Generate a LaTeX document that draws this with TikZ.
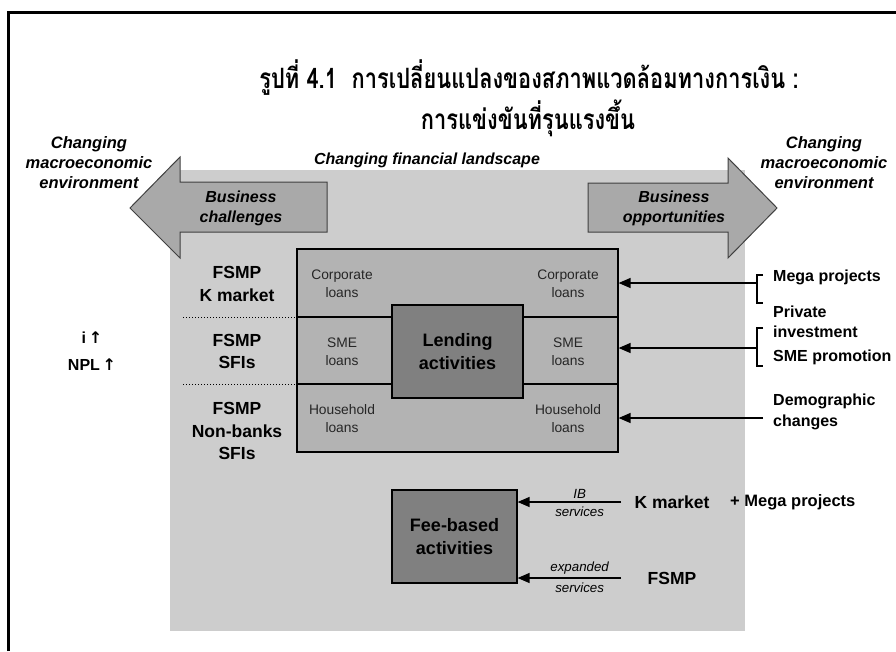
\documentclass[tikz,border=0pt]{standalone}
\usepackage{fontspec}
\setmainfont{Liberation Sans}
\newfontfamily\thaifont[Script=Thai, FakeStretch=0.78]{Loma}
\newfontfamily\symfont{DejaVu Sans}
\usetikzlibrary{arrows.meta}
\definecolor{landbg}{HTML}{CDCDCD}
\definecolor{arrowfill}{HTML}{A9A9A9}
\definecolor{rowfill}{HTML}{B3B3B3}
\definecolor{corefill}{HTML}{808080}
\tikzset{
  lbl/.style={font=\fontsize{17}{20}\selectfont\bfseries, align=center, inner sep=0pt},
  drv/.style={font=\fontsize{16}{20}\selectfont\bfseries, align=left, inner sep=0pt, anchor=west},
  ibl/.style={font=\fontsize{16.5}{20}\selectfont\bfseries\itshape, align=center, inner sep=0pt},
  small/.style={font=\fontsize{13.8}{18}\selectfont, text=black!85, align=center, inner sep=0pt},
  smallit/.style={font=\fontsize{13.3}{14}\selectfont\itshape, inner sep=0pt},
  rowbox/.style={draw=black, line width=1.2pt, fill=rowfill, minimum width=321pt, inner sep=0pt},
  corebox/.style={draw=black, line width=1.2pt, fill=corefill, inner sep=0pt, align=center,
     font=\fontsize{18}{23}\selectfont\bfseries},
  bigarrow/.style={draw=black!75, line width=1pt, fill=arrowfill},
  conn/.style={line width=1.3pt, -{Triangle[length=12pt,width=10pt]}},
  brk/.style={line width=1.2pt},
  thai/.style={font=\thaifont\fontsize{28}{30}\selectfont\bfseries, inner sep=0pt}
}
\begin{document}
\begin{tikzpicture}[x=1pt,y=-1pt]
\useasboundingbox (0,0) rectangle (896,651);
% frame
\draw[line width=3pt] (8,651) -- (8,12) -- (896,12);
% title
\node[thai] (t1) at (529,78) {รูปที่ 4.1\ \ การเปลี่ยนแปลงของสภาพแวดล้อมทางการเงิน :};
\node[thai] (t2) at (528,118) {การแข่งขันที่รุนแรงขึ้น};
% landscape background
\fill[landbg] (170,170) rectangle (745,631);
\node[font=\fontsize{16}{20}\selectfont\bfseries\itshape, inner sep=0pt] (land) at (427,160) {Changing financial landscape};
% big arrows
\draw[bigarrow] (327,182) -- (180,182) -- (180,157) -- (130,208) -- (180,258) -- (180,232) -- (327,232) -- cycle;
\draw[bigarrow] (588,183) -- (728,183) -- (728,158) -- (777,208) -- (728,258) -- (728,232) -- (588,232) -- cycle;
\node[ibl, font=\fontsize{16}{20}\selectfont\bfseries\itshape] (bc) at (241,208) {Business\\challenges};
\node[ibl, font=\fontsize{16}{20}\selectfont\bfseries\itshape] (bo) at (674,208) {Business\\opportunities};
\node[ibl] (cml) at (89,163) {Changing\\macroeconomic\\environment};
\node[ibl] (cmr) at (824,163) {Changing\\macroeconomic\\environment};
% lending rows
\node[rowbox, minimum height=68pt] (r1) at (457.5,283) {};
\node[rowbox, minimum height=67pt] (r2) at (457.5,350.5) {};
\node[rowbox, minimum height=68pt] (r3) at (457.5,418) {};
\node[corebox, minimum width=131pt, minimum height=93pt] (lend) at (457.5,351.5) {Lending\\activities};
\node[small] (cl1) at (342,284) {Corporate\\loans};
\node[small] (cl2) at (568,284) {Corporate\\loans};
\node[small] (sl1) at (342,352) {SME\\loans};
\node[small] (sl2) at (568,352) {SME\\loans};
\node[small] (hl1) at (342,419) {Household\\loans};
\node[small] (hl2) at (568,419) {Household\\loans};
% left labels
\node[lbl, font=\fontsize{17.5}{22.5}\selectfont\bfseries] (f1) at (237,284) {FSMP\\K market};
\node[lbl, font=\fontsize{17.5}{22.5}\selectfont\bfseries] (f2) at (237,351.5) {FSMP\\SFIs};
\node[lbl, font=\fontsize{17.5}{22.5}\selectfont\bfseries] (f3) at (237,431) {FSMP\\Non-banks\\SFIs};
\coordinate (d1) at (183,317);
\coordinate (d2) at (183,384);
\draw[dotted, line width=1pt] (d1) -- (d1 -| r1.west);
\draw[dotted, line width=1pt] (d2) -- (d2 -| r2.west);
\node[lbl, font=\fontsize{16}{20}\selectfont\bfseries] (irate) at (92,338) {i\,{\symfont\bfseries\char"2191}};
\node[lbl, font=\fontsize{16}{20}\selectfont\bfseries] (npl) at (92,365) {NPL\,{\symfont\bfseries\char"2191}};
% right side drivers
\node[drv] (mega) at (773,277) {Mega projects};
\node[drv] (priv) at (773,322) {Private\\investment};
\node[drv] (smep) at (773,357) {SME promotion};
\node[drv, font=\fontsize{16}{21}\selectfont\bfseries] (demo) at (773,412) {Demographic\\changes};
\coordinate (b1) at (757,283);
\coordinate (b2) at (757,348);
\coordinate (b3) at (763,418);
\draw[brk] (763,275) -- (757,275) -- (757,303) -- (763,303);
\draw[brk] (763,328) -- (757,328) -- (757,366) -- (763,366);
\draw[conn] (b1) -- (b1 -| r1.east);
\draw[conn] (b2) -- (b2 -| r2.east);
\draw[conn] (b3) -- (b3 -| r3.east);
% fee-based
\node[corebox, minimum width=125pt, minimum height=93pt] (fee) at (454.5,536.5) {Fee-based\\activities};
\node[lbl, font=\fontsize{17.5}{20}\selectfont\bfseries] (km) at (672,502) {K market};
\node[lbl, font=\fontsize{17.5}{20}\selectfont\bfseries] (fsmp) at (672,578) {FSMP};
\node[drv, font=\fontsize{16.5}{20}\selectfont\bfseries] (mega2) at (730,502) {+ Mega projects};
\coordinate (k1) at (621,502);
\coordinate (k2) at (621,578);
\draw[conn] (k1) -- (k1 -| fee.east) node[pos=0.4, above=3pt, smallit] {IB} node[pos=0.4, below=4pt, smallit] {services};
\draw[conn] (k2) -- (k2 -| fee.east) node[pos=0.4, above=3pt, smallit] {expanded} node[pos=0.4, below=4pt, smallit] {services};
\end{tikzpicture}
\end{document}
